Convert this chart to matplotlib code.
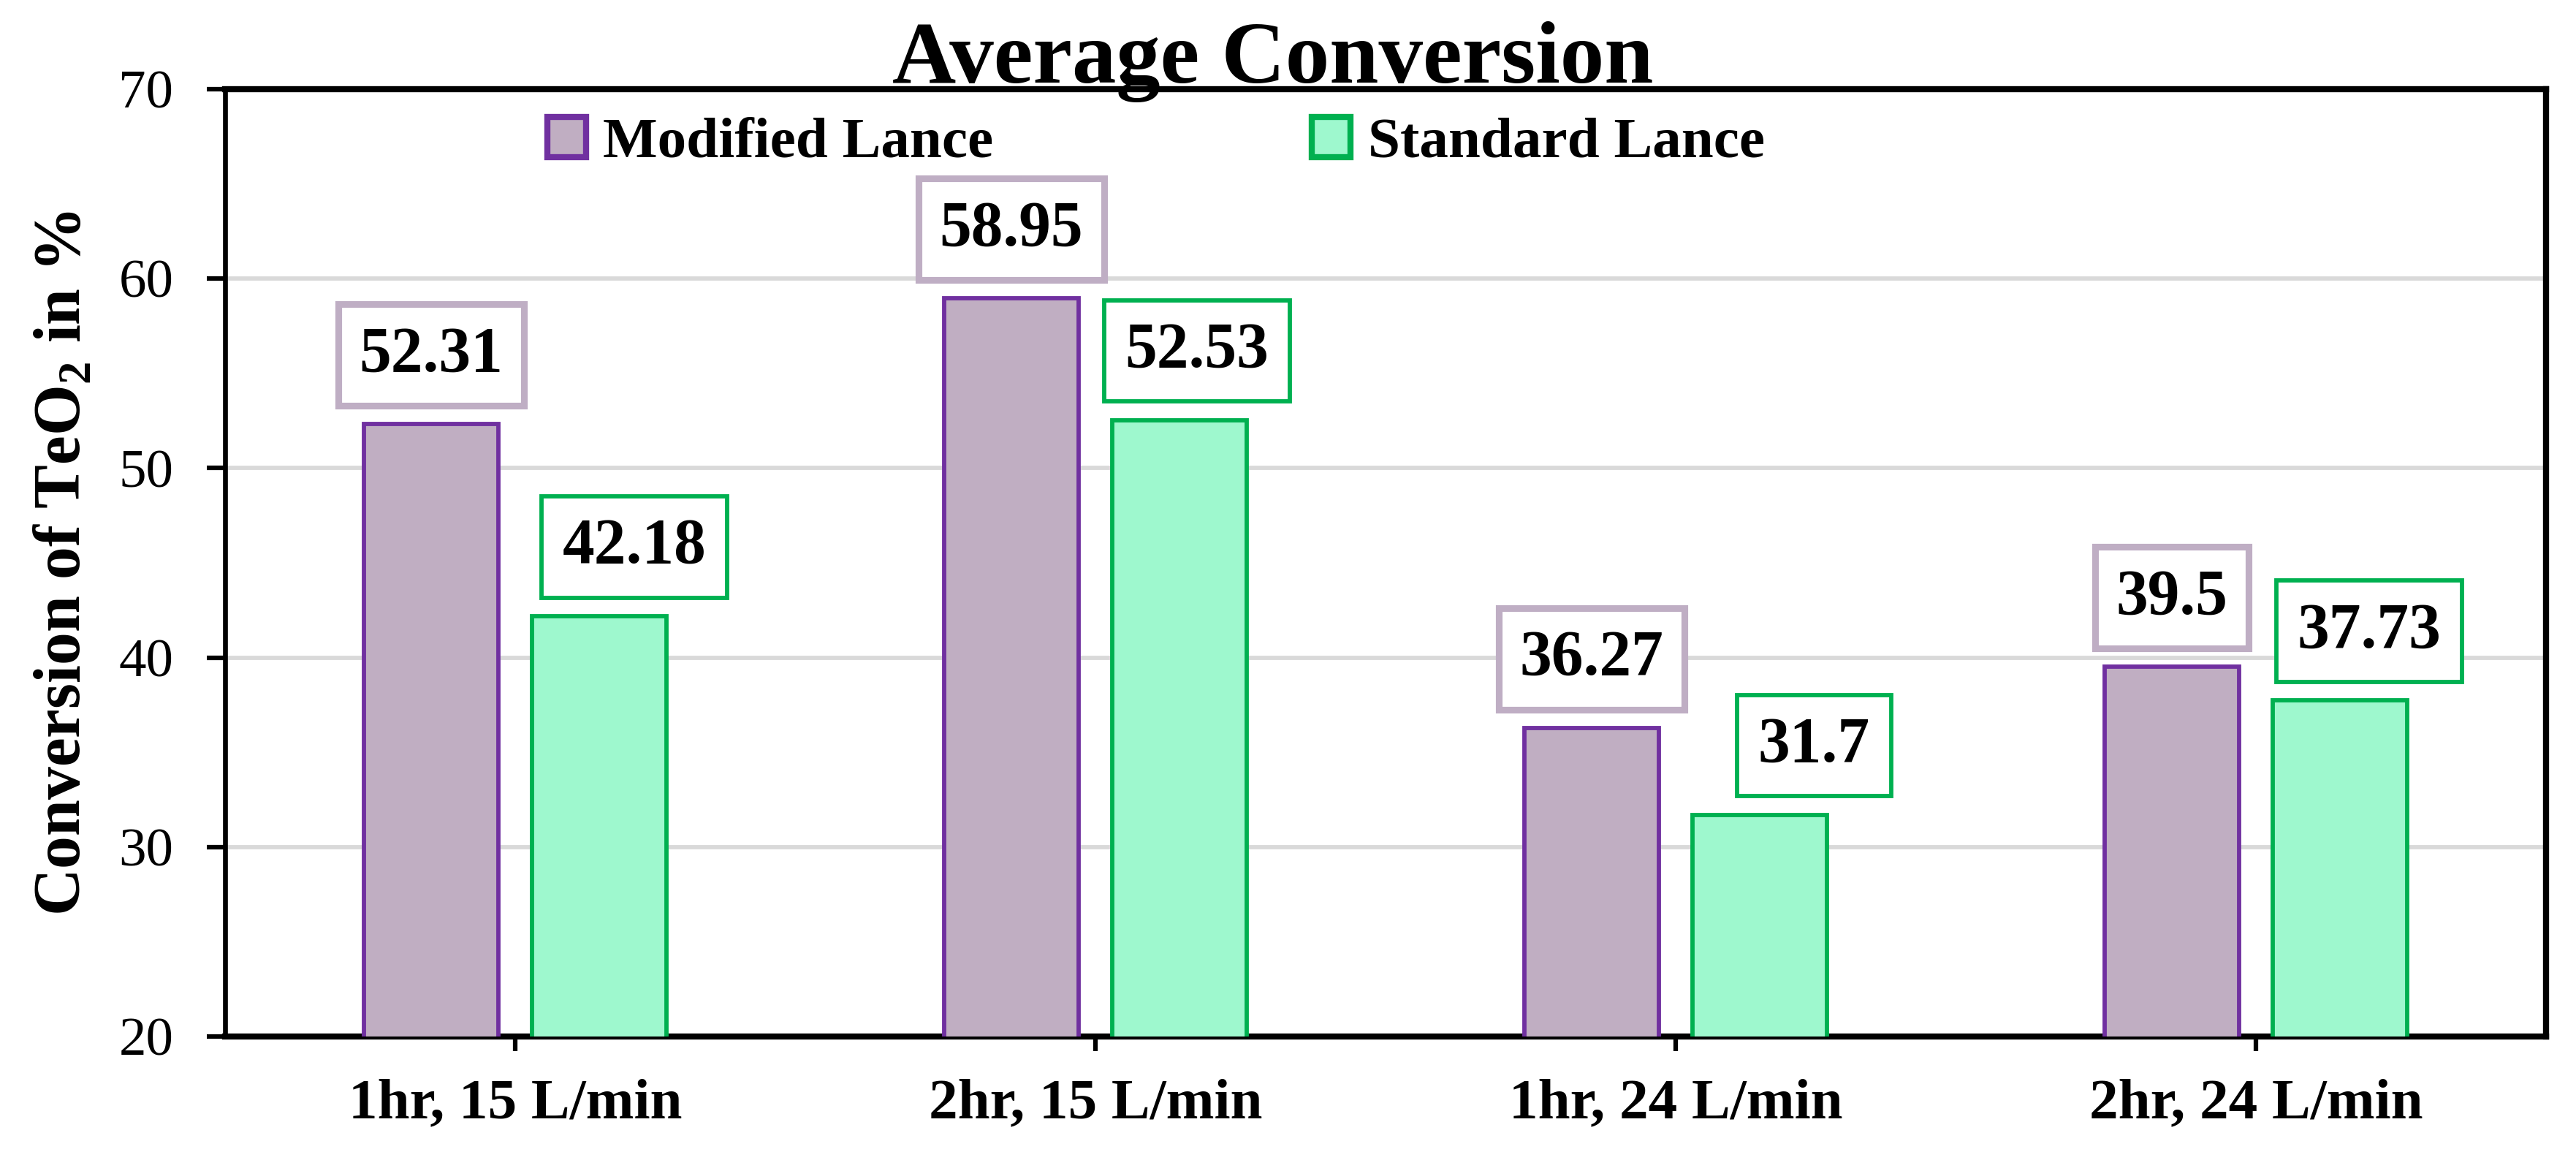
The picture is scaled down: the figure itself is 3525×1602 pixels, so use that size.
import numpy as np
import matplotlib
matplotlib.use("Agg")
import matplotlib.pyplot as plt

# data
categories = ["1hr, 15 L/min", "2hr, 15 L/min", "1hr, 24 L/min", "2hr, 24 L/min"]
modified_lance = [52.31, 58.95, 36.27, 39.5]
standard_lance = [42.18, 52.53, 31.7, 37.73]
yticks = [20, 30, 40, 50, 60, 70]

# label box nudges (data units along x)
mod_shift = [0.0, 0.0, 0.0, 0.0]
std_shift = [0.06, 0.03, 0.093, 0.05]

plt.rcParams['font.family'] = ['Liberation Serif', 'DejaVu Serif']
plt.rcParams['mathtext.fontset'] = 'custom'
plt.rcParams['mathtext.rm'] = 'Liberation Serif'
plt.rcParams['mathtext.bf'] = 'Liberation Serif:bold'

mod_fill, mod_edge, mod_box = "#C0AEC2", "#7030A0", "#BFAEC4"
std_fill, std_edge = "#9EF8CE", "#00B050"

fig = plt.figure(figsize=(11.75, 5.34), dpi=300)
ax = fig.add_axes([0.0874, 0.1149, 0.901, 0.809])

x = np.arange(len(categories))
w = 0.232
off = 0.145

ax.bar(x - off, modified_lance, w, bottom=0, color=mod_fill, edgecolor=mod_edge,
       linewidth=1.4, label="Modified Lance", zorder=3)
ax.bar(x + off, standard_lance, w, bottom=0, color=std_fill, edgecolor=std_edge,
       linewidth=1.4, label="Standard Lance", zorder=3)

ax.set_ylim(20, 70)
ax.set_xlim(-0.5, len(categories) - 0.5)
ax.set_yticks(yticks)
ax.set_yticklabels([str(t) for t in yticks], fontsize=18)
ax.set_xticks(x)
ax.set_xticklabels(categories, fontsize=19, fontweight='bold')
ax.tick_params(axis='y', length=6, width=1.5, pad=11)
ax.tick_params(axis='x', length=4.8, width=1.5, pad=9)

ax.yaxis.grid(True, color="#D9D9D9", linewidth=1.4, zorder=0)
ax.set_axisbelow(True)

ax.spines['left'].set_linewidth(1.6)
for s in ['top', 'right', 'bottom']:
    ax.spines[s].set_linewidth(2.0)

for i in range(len(categories)):
    ax.annotate(str(modified_lance[i]), xy=(x[i] - off + mod_shift[i], modified_lance[i]),
                xytext=(0, 13), textcoords='offset points', ha='center', va='bottom',
                fontsize=21, fontweight='bold', zorder=5,
                bbox=dict(boxstyle='square,pad=0.33', fc='white', ec=mod_box, lw=2.2))
    ax.annotate(str(standard_lance[i]), xy=(x[i] + off + std_shift[i], standard_lance[i]),
                xytext=(0, 13), textcoords='offset points', ha='center', va='bottom',
                fontsize=21, fontweight='bold', zorder=5,
                bbox=dict(boxstyle='square,pad=0.33', fc='white', ec=std_edge, lw=1.4))

leg = ax.legend(loc='center', bbox_to_anchor=(0.401, 0.943), ncol=2, frameon=False,
                prop={'weight': 'bold', 'size': 19}, handlelength=0.67, handleheight=0.7,
                handletextpad=0.3, columnspacing=5.5)
for h in leg.legend_handles:
    h.set_linewidth(2.0)

fig.text(0.494, 0.9295, "Average Conversion", ha='center', va='baseline',
         fontsize=29, fontweight='bold')
fig.text(0.0245, 0.519, r"Conversion of TeO$_\mathbf{2}$ in %", rotation=90,
         ha='center', va='center', fontsize=21.5, fontweight='bold')

fig.savefig("out.png", dpi=300)
